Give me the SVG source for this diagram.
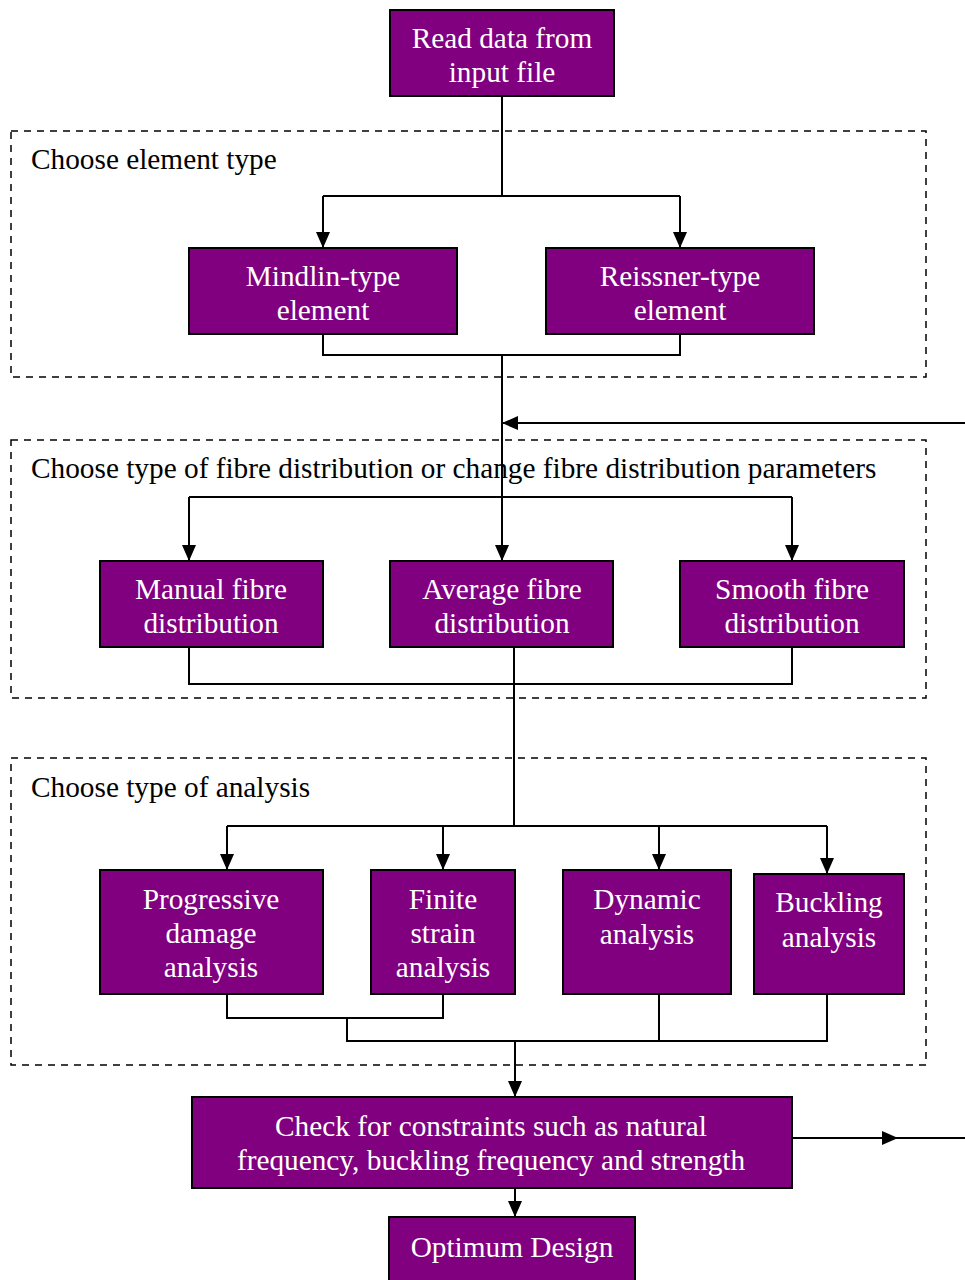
<svg xmlns="http://www.w3.org/2000/svg" width="965" height="1280" viewBox="0 0 965 1280">
<style>
.box{fill:#800080;stroke:#000;stroke-width:2}
.t{font-family:"Liberation Serif","Times New Roman",serif;font-size:29.3px;fill:#fff;text-anchor:middle}
.lab{font-family:"Liberation Serif","Times New Roman",serif;font-size:29.3px;fill:#000}
.dash{fill:none;stroke:#000;stroke-width:1.5;stroke-dasharray:7,6}
.ln{fill:none;stroke:#000;stroke-width:2}
.ar{fill:none;stroke:#000;stroke-width:2;marker-end:url(#ah)}
</style>
<defs>
<marker id="ah" markerUnits="userSpaceOnUse" markerWidth="16" markerHeight="16" viewBox="0 0 16 16" refX="16" refY="8" orient="auto">
<path d="M0,1 L16,8 L0,15 Z" fill="#000"/>
</marker>
</defs>
<rect width="965" height="1280" fill="#fff"/>
<g id="groups">
<rect class="dash" x="11" y="131" width="915" height="246"/>
<text class="lab" x="31" y="169">Choose element type</text>
<rect class="dash" x="11" y="440" width="915" height="258"/>
<text class="lab" x="31" y="478">Choose type of fibre distribution or change fibre distribution parameters</text>
<rect class="dash" x="11" y="758" width="915" height="307"/>
<text class="lab" x="31" y="797">Choose type of analysis</text>
</g>
<g id="connectors">
<polyline class="ln" points="502,96 502,196"/>
<polyline class="ln" points="323,196 680,196"/>
<polyline class="ar" points="323,196 323,248"/>
<polyline class="ar" points="680,196 680,248"/>
<polyline class="ln" points="323,334 323,355 680,355 680,334"/>
<polyline class="ar" points="502,355 502,561"/>
<polyline class="ar" points="965,423 502,423"/>
<polyline class="ln" points="189,497 792,497"/>
<polyline class="ar" points="189,497 189,561"/>
<polyline class="ar" points="792,497 792,561"/>
<polyline class="ln" points="189,647 189,684 792,684 792,647"/>
<polyline class="ln" points="514,647 514,826"/>
<polyline class="ln" points="227,826 827,826"/>
<polyline class="ar" points="227,826 227,870"/>
<polyline class="ar" points="443,826 443,870"/>
<polyline class="ar" points="659,826 659,870"/>
<polyline class="ar" points="827,826 827,874"/>
<polyline class="ln" points="227,994 227,1018 443,1018 443,994"/>
<polyline class="ln" points="347,1018 347,1041 827,1041 827,994"/>
<polyline class="ln" points="659,994 659,1041"/>
<polyline class="ar" points="515,1041 515,1097"/>
<polyline class="ln" points="792,1138 965,1138"/>
<polyline class="ar" points="792,1138 898,1138"/>
<polyline class="ar" points="515,1188 515,1217"/>
</g>
<g id="read"><rect class="box" x="390" y="10" width="224" height="86"/><text class="t" x="502" y="48">Read data from</text><text class="t" x="502" y="82">input file</text></g>
<g id="mindlin"><rect class="box" x="189" y="248" width="268" height="86"/><text class="t" x="323" y="286">Mindlin-type</text><text class="t" x="323" y="320">element</text></g>
<g id="reissner"><rect class="box" x="546" y="248" width="268" height="86"/><text class="t" x="680" y="286">Reissner-type</text><text class="t" x="680" y="320">element</text></g>
<g id="manual"><rect class="box" x="100" y="561" width="223" height="86"/><text class="t" x="211" y="599">Manual fibre</text><text class="t" x="211" y="633">distribution</text></g>
<g id="average"><rect class="box" x="390" y="561" width="223" height="86"/><text class="t" x="502" y="599">Average fibre</text><text class="t" x="502" y="633">distribution</text></g>
<g id="smooth"><rect class="box" x="680" y="561" width="224" height="86"/><text class="t" x="792" y="599">Smooth fibre</text><text class="t" x="792" y="633">distribution</text></g>
<g id="progressive"><rect class="box" x="100" y="870" width="223" height="124"/><text class="t" x="211" y="909">Progressive</text><text class="t" x="211" y="943">damage</text><text class="t" x="211" y="977">analysis</text></g>
<g id="finite"><rect class="box" x="371" y="870" width="144" height="124"/><text class="t" x="443" y="909">Finite</text><text class="t" x="443" y="943">strain</text><text class="t" x="443" y="977">analysis</text></g>
<g id="dynamic"><rect class="box" x="563" y="870" width="168" height="124"/><text class="t" x="647" y="909">Dynamic</text><text class="t" x="647" y="944">analysis</text></g>
<g id="buckling"><rect class="box" x="754" y="874" width="150" height="120"/><text class="t" x="829" y="912">Buckling</text><text class="t" x="829" y="947">analysis</text></g>
<g id="check"><rect class="box" x="192" y="1097" width="600" height="91"/><text class="t" x="491" y="1136">Check for constraints such as natural</text><text class="t" x="491" y="1170">frequency, buckling frequency and strength</text></g>
<g id="optimum"><rect class="box" x="389" y="1217" width="246" height="70"/><text class="t" x="512" y="1257">Optimum Design</text></g>
</svg>
